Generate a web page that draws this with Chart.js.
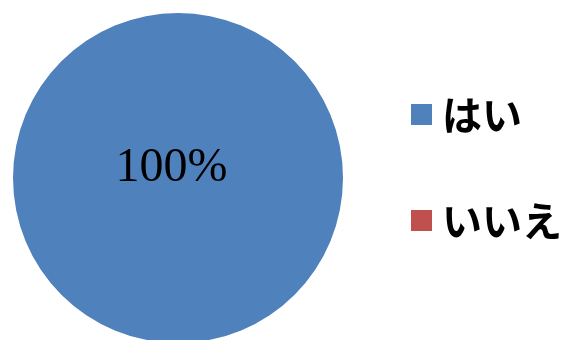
<!DOCTYPE html>
<html>
<head>
<meta charset="utf-8">
<script src="https://cdn.jsdelivr.net/npm/chart.js@4/dist/chart.umd.min.js"></script>
<style>
  html, body { margin: 0; padding: 0; background: #fff; overflow: hidden; }
  #wrap { width: 567px; height: 352px; }
</style>
</head>
<body>
<div id="wrap"><canvas id="pie"></canvas></div>
<script>
// data
const labels = ['はい', 'いいえ'];
const values = [100, 0];
const colors = ['#4F81BD', '#C0504D'];

// legend drawn at the right, like the Excel chart
const sideLegend = {
  id: 'sideLegend',
  afterDraw(chart) {
    const ctx = chart.ctx;
    const rows = [114, 220];
    ctx.save();
    ctx.font = 'bold 40px "Noto Sans CJK JP"';
    ctx.textBaseline = 'middle';
    chart.data.labels.forEach((lab, i) => {
      ctx.fillStyle = chart.data.datasets[0].backgroundColor[i];
      ctx.fillRect(411, rows[i] - 10, 21, 21);
      ctx.fillStyle = '#000';
      ctx.fillText(lab, 442, rows[i] + 1);
    });
    ctx.restore();
  }
};

// percentage label inside the slice
const pctLabel = {
  id: 'pctLabel',
  afterDatasetsDraw(chart) {
    const ctx = chart.ctx;
    const ds = chart.data.datasets[0];
    const total = ds.data.reduce((a, b) => a + b, 0);
    chart.getDatasetMeta(0).data.forEach((arc, i) => {
      if (!ds.data[i]) return;
      const pct = Math.round(ds.data[i] / total * 100) + '%';
      ctx.save();
      ctx.font = '48px "Liberation Serif"';
      ctx.fillStyle = '#000';
      ctx.textAlign = 'center';
      ctx.textBaseline = 'alphabetic';
      ctx.fillText(pct, arc.x - arc.outerRadius * 0.04, arc.y + 3);
      ctx.restore();
    });
  }
};

new Chart(document.getElementById('pie'), {
  type: 'pie',
  data: {
    labels,
    datasets: [{ data: values, backgroundColor: colors, borderWidth: 0 }]
  },
  options: {
    responsive: true,
    maintainAspectRatio: false,
    animation: false,
    layout: { padding: { left: 13, top: 13, right: 224, bottom: 9 } },
    plugins: { legend: { display: false }, tooltip: { enabled: false } }
  },
  plugins: [sideLegend, pctLabel]
});
</script>
</body>
</html>
